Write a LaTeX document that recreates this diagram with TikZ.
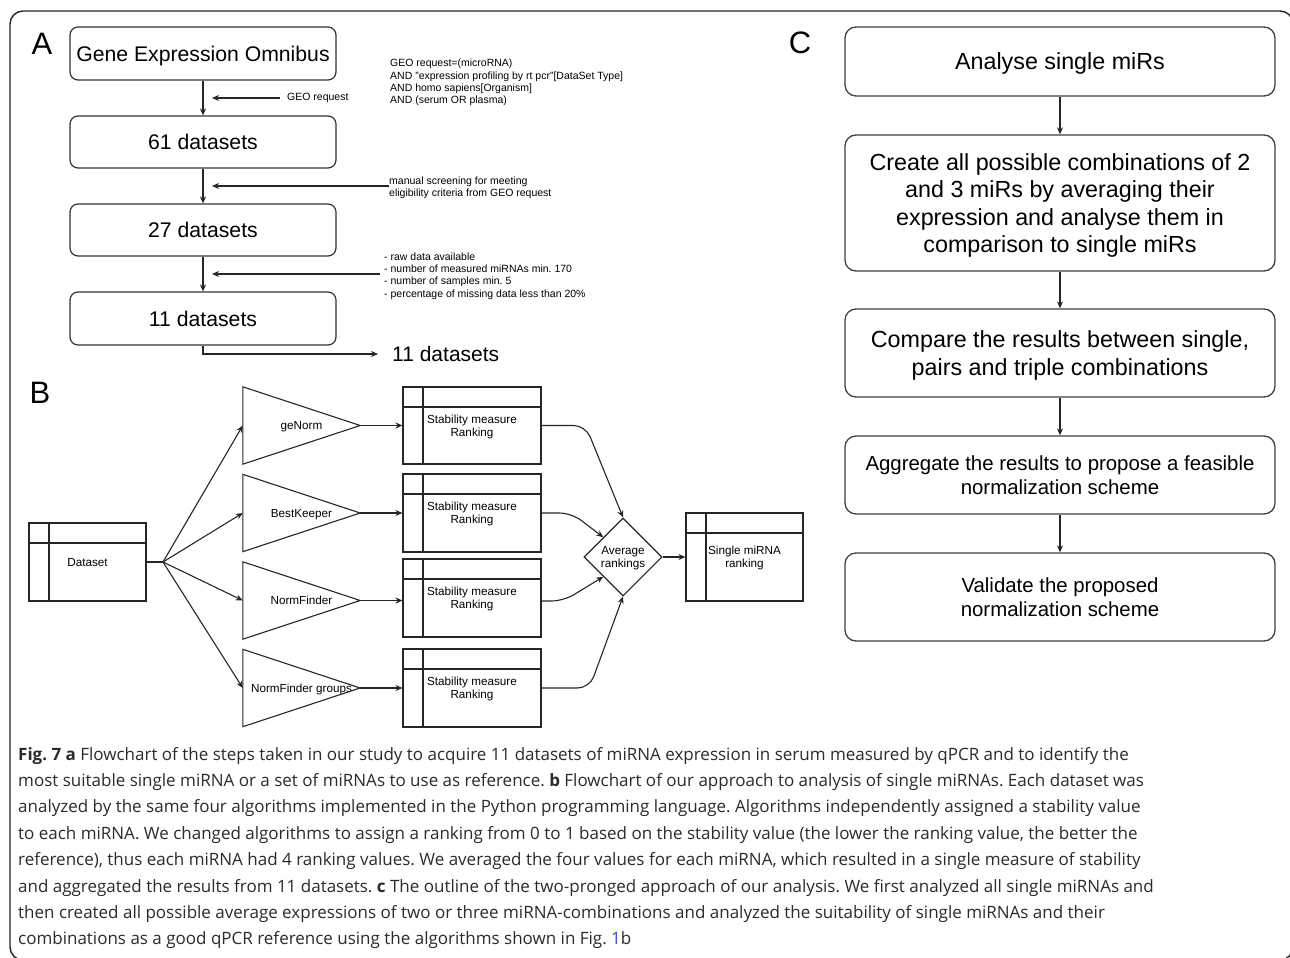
\documentclass[tikz,border=0pt]{standalone}
\usepackage{fontspec}
\setmainfont{Liberation Sans}
\newfontfamily\capfont{Open Sans}
\usetikzlibrary{shapes.geometric,arrows.meta,calc}
\definecolor{capcol}{HTML}{2B2B2B}
\definecolor{linkblue}{HTML}{2B4FD8}
\frenchspacing
\begin{document}
\begin{tikzpicture}[x=1pt,y=-1pt,
  ln/.style={line width=1.1pt, draw=black!85},
  arr/.style={ln, -{Stealth[length=7pt,width=6pt]}},
  boxA/.style={draw=black!80, line width=1.2pt, rounded corners=8pt, minimum width=266pt, inner sep=0pt, text depth=0pt, font=\fontsize{21.2}{25}\selectfont},
  boxC/.style={draw=black!75, line width=1.3pt, rounded corners=11pt, minimum width=430pt, inner sep=0pt, text depth=0pt, align=center},
  fC/.style={font=\fontsize{23.3}{27.3}\selectfont},
  fCs/.style={font=\fontsize{20.4}{24.5}\selectfont},
  small/.style={font=\fontsize{10.5}{12.3}\selectfont, align=left, inner sep=0pt},
  tbl/.style={draw=black!85, line width=1.1pt, inner sep=0pt, align=center, text depth=0pt, font=\fontsize{11.7}{13.3}\selectfont,
    path picture={
      \draw[ln] ([yshift=-20pt]path picture bounding box.north west) -- ([yshift=-20pt]path picture bounding box.north east);
      \draw[ln] ([xshift=20pt]path picture bounding box.north west) -- ([xshift=20pt]path picture bounding box.south west);}},
  tri/.style={minimum width=117pt, minimum height=77pt, inner sep=0pt, text depth=0pt, font=\fontsize{11.7}{13.3}\selectfont},
  lab/.style={font=\fontsize{31}{31}\selectfont, inner sep=0pt},
  captxt/.style={anchor=base west, inner sep=0pt, text=capcol, font=\capfont\fontsize{17.0}{20}\selectfont}
]
\useasboundingbox (0,0) rectangle (1290,958);
\fill[white] (0,0) rectangle (1290,958);
% outer frame
\draw[line width=1.4pt, draw=black!85, rounded corners=13pt] (10,11) rectangle (1293,960);

% ---------------- Panel A ----------------
\node[lab] (labA) at (42,44) {A};
\node[boxA, minimum height=53pt] (a1) at (203,53.5) {Gene Expression Omnibus};
\node[boxA, minimum height=52pt] (a2) at (203,142) {61 datasets};
\node[boxA, minimum height=52pt] (a3) at (203,230) {27 datasets};
\node[boxA, minimum height=53pt] (a4) at (203,318.5) {11 datasets};
\draw[arr] (a1) -- (a2);
\draw[arr] (a2) -- (a3);
\draw[arr] (a3) -- (a4);

\node[small, anchor=west] (geo) at (287,98) {GEO request};
\coordinate (geoE) at (212,98);
\draw[arr] ([xshift=-7pt]geo.west) -- (geoE);

\node[small, anchor=north west] (query) at (390,59) {GEO request=(microRNA)\\AND "expression profiling by rt pcr"[DataSet Type]\\AND homo sapiens[Organism]\\AND (serum OR plasma)};

\node[small, anchor=west] (manual) at (389,187.5) {manual screening for meeting\\eligibility criteria from GEO request};
\coordinate (manE) at (212,186);
\draw[arr] (manual.west |- manE) -- (manE);

\node[small, anchor=west] (crit) at (384,276) {- raw data available\\- number of measured miRNAs min. 170\\- number of samples min. 5\\- percentage of missing data less than 20\%};
\coordinate (critE) at (212,274);
\draw[arr] ([xshift=-4pt]crit.west |- critE) -- (critE);

\node[inner sep=0pt, anchor=west, text depth=0pt, font=\fontsize{21}{25}\selectfont] (res) at (392,354) {11 datasets};
\draw[arr] (a4.south) |- ([xshift=-14pt]res.west);

% ---------------- Panel B ----------------
\node[lab] (labB) at (40,393) {B};
\node[tbl, minimum width=117pt, minimum height=78pt] (ds) at (87.5,562) {Dataset};
\coordinate (fan) at (163,562);

\node[tri] (gn) at (301.5,425.5) {geNorm};
\node[tri] (bk) at (301.5,513) {BestKeeper};
\node[tri] (nf) at (301.5,600.5) {NormFinder};
\node[tri] (nfg) at (301.5,688) {NormFinder groups};
\foreach \t in {gn,bk,nf,nfg}{
  \draw[ln] (\t.north west) -- (\t.east) -- (\t.south west) -- cycle;
}

\node[tbl, minimum width=138pt, minimum height=77pt] (s1) at (472,425.5) {Stability measure\\Ranking};
\node[tbl, minimum width=138pt, minimum height=78pt] (s2) at (472,513) {Stability measure\\Ranking};
\node[tbl, minimum width=138pt, minimum height=78pt] (s3) at (472,598) {Stability measure\\Ranking};
\node[tbl, minimum width=138pt, minimum height=78pt] (s4) at (472,688) {Stability measure\\Ranking};

\node[draw=black!85, line width=1.1pt, shape=diamond, aspect=1, minimum size=78pt, inner sep=0pt, align=center, text depth=0pt, font=\fontsize{11.7}{13.3}\selectfont] (avg) at (623,557) {Average\\rankings};
\node[tbl, minimum width=117pt, minimum height=88pt] (single) at (744.5,557) {Single miRNA\\ranking};

\draw[ln] (ds.east) -- (fan);
\draw[arr] (fan) -- (gn.west);
\draw[arr] (fan) -- (bk.west);
\draw[arr] (fan) -- (nf.west);
\draw[arr] (fan) -- (nfg.west);

\draw[arr] (gn.east) -- (gn.east -| s1.west);
\draw[arr] (bk.east) -- (bk.east -| s2.west);
\draw[arr] (nf.east) -- (nf.east -| s3.west);
\draw[arr] (nfg.east) -- (nfg.east -| s4.west);

\draw[arr, rounded corners=12pt] (s1.east) -- ++(44,0) -- (avg.north);
\draw[arr, rounded corners=12pt] (s2.east) -- ++(30,0) -- ($(avg.west)!0.5!(avg.north)$);
\draw[arr, rounded corners=12pt] ([yshift=-3pt]s3.east) -- ++(22,0) -- ($(avg.west)!0.5!(avg.south)$);
\draw[arr, rounded corners=12pt] (s4.east) -- ++(48,0) -- (avg.south);
\draw[arr] (avg.east) -- (single.west);

% ---------------- Panel C ----------------
\node[lab] (labC) at (800,43) {C};
\node[boxC, fC, minimum height=69pt] (c1) at (1060,61.5) {Analyse single miRs};
\node[boxC, fC, minimum height=136pt] (c2) at (1060,203) {Create all possible combinations of 2\\and 3 miRs by averaging their\\expression and analyse them in\\comparison to single miRs};
\node[boxC, fC, minimum height=88pt] (c3) at (1060,353) {Compare the results between single,\\pairs and triple combinations};
\node[boxC, fCs, minimum height=78pt] (c4) at (1060,475) {Aggregate the results to propose a feasible\\normalization scheme};
\node[boxC, fCs, minimum height=88pt] (c5) at (1060,597) {Validate the proposed\\normalization scheme};
\draw[arr] (c1) -- (c2);
\draw[arr] (c2) -- (c3);
\draw[arr] (c3) -- (c4);
\draw[arr] (c4) -- (c5);

% ---------------- Caption ----------------
\node[captxt] (cap1) at (18,760) {\textbf{Fig. 7 a} Flowchart of the steps taken in our study to acquire 11 datasets of miRNA expression in serum measured by qPCR and to identify the};
\node[captxt] (cap2) at (18,786.4) {most suitable single miRNA or a set of miRNAs to use as reference. \textbf{b} Flowchart of our approach to analysis of single miRNAs. Each dataset was};
\node[captxt] (cap3) at (18,812.8) {analyzed by the same four algorithms implemented in the Python programming language. Algorithms independently assigned a stability value};
\node[captxt] (cap4) at (18,839.2) {to each miRNA. We changed algorithms to assign a ranking from 0 to 1 based on the stability value (the lower the ranking value, the better the};
\node[captxt] (cap5) at (18,865.6) {reference), thus each miRNA had 4 ranking values. We averaged the four values for each miRNA, which resulted in a single measure of stability};
\node[captxt] (cap6) at (18,892) {and aggregated the results from 11 datasets. \textbf{c} The outline of the two-pronged approach of our analysis. We first analyzed all single miRNAs and};
\node[captxt] (cap7) at (18,918.4) {then created all possible average expressions of two or three miRNA-combinations and analyzed the suitability of single miRNAs and their};
\node[captxt] (cap8) at (18,944.8) {combinations as a good qPCR reference using the algorithms shown in Fig. {\color{linkblue}1}b};
\end{tikzpicture}
\end{document}
